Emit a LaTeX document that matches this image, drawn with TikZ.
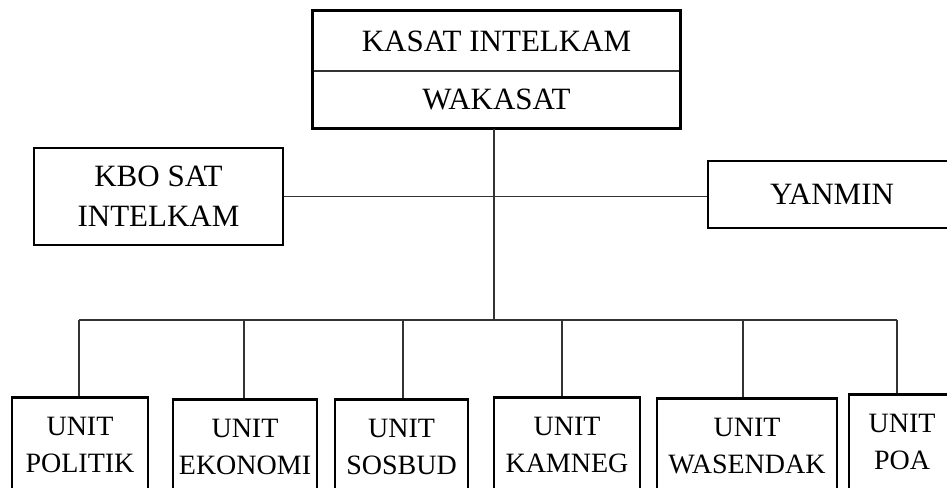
\documentclass[tikz,border=0pt]{standalone}
\usepackage{fontspec}
\setmainfont{Liberation Serif}
\begin{document}
\begin{tikzpicture}[x=1pt,y=-1pt,
  box/.style={draw=black,line width=2.8pt,inner sep=0pt,align=center,fill=white},
  plain/.style={inner sep=0pt,align=center},
  big/.style={font=\fontsize{31}{40}\selectfont},
  unitbox/.style={box,anchor=north,minimum height=96,font=\fontsize{28}{37}\selectfont},
  conn/.style={draw=black!80,line width=1.5pt}]
\useasboundingbox (0,0) rectangle (947,487);
\clip (0,0) rectangle (947,487);
% top box (two parts, thin divider)
\node[plain,big,minimum width=367,minimum height=60] (kasat) at (496.5,41) {KASAT INTELKAM};
\node[plain,big,minimum width=367,minimum height=57,anchor=north] (wakasat) at (kasat.south) {WAKASAT};
\draw[conn] (kasat.south west) -- (kasat.south east);
\draw[line width=2.8pt] (kasat.north west) rectangle (wakasat.south east);
% side boxes
\node[box,big,minimum width=249,minimum height=97] (kbo) at (158.5,196.5) {KBO SAT\\INTELKAM};
\node[box,big,minimum width=248,minimum height=67] (yanmin) at (832,194.5) {YANMIN};
% unit boxes
\node[unitbox,minimum width=136] (politik) at (80,396) {UNIT\\POLITIK};
\node[unitbox,minimum width=144] (ekonomi) at (245,398) {UNIT\\EKONOMI};
\node[unitbox,minimum width=133] (sosbud) at (401.5,398) {UNIT\\SOSBUD};
\node[unitbox,minimum width=146] (kamneg) at (567,396) {UNIT\\KAMNEG};
\node[unitbox,minimum width=180] (wasendak) at (747,397) {UNIT\\WASENDAK};
\node[unitbox,minimum width=106] (poa) at (902,393) {UNIT\\POA};
% bus coordinates
\coordinate (trunk) at (494,320);
\coordinate (b1) at (79,320);
\coordinate (b2) at (244,320);
\coordinate (b3) at (403,320);
\coordinate (b4) at (562,320);
\coordinate (b5) at (743,320);
\coordinate (b6) at (897,320);
% connectors
\draw[conn] (trunk |- wakasat.south) -- (trunk);
\draw[conn] (kbo.east) -- (kbo.east -| yanmin.west);
\draw[conn] (b1) -- (b6);
\draw[conn] (b1) -- (b1 |- politik.north);
\draw[conn] (b2) -- (b2 |- ekonomi.north);
\draw[conn] (b3) -- (b3 |- sosbud.north);
\draw[conn] (b4) -- (b4 |- kamneg.north);
\draw[conn] (b5) -- (b5 |- wasendak.north);
\draw[conn] (b6) -- (b6 |- poa.north);
\end{tikzpicture}
\end{document}
